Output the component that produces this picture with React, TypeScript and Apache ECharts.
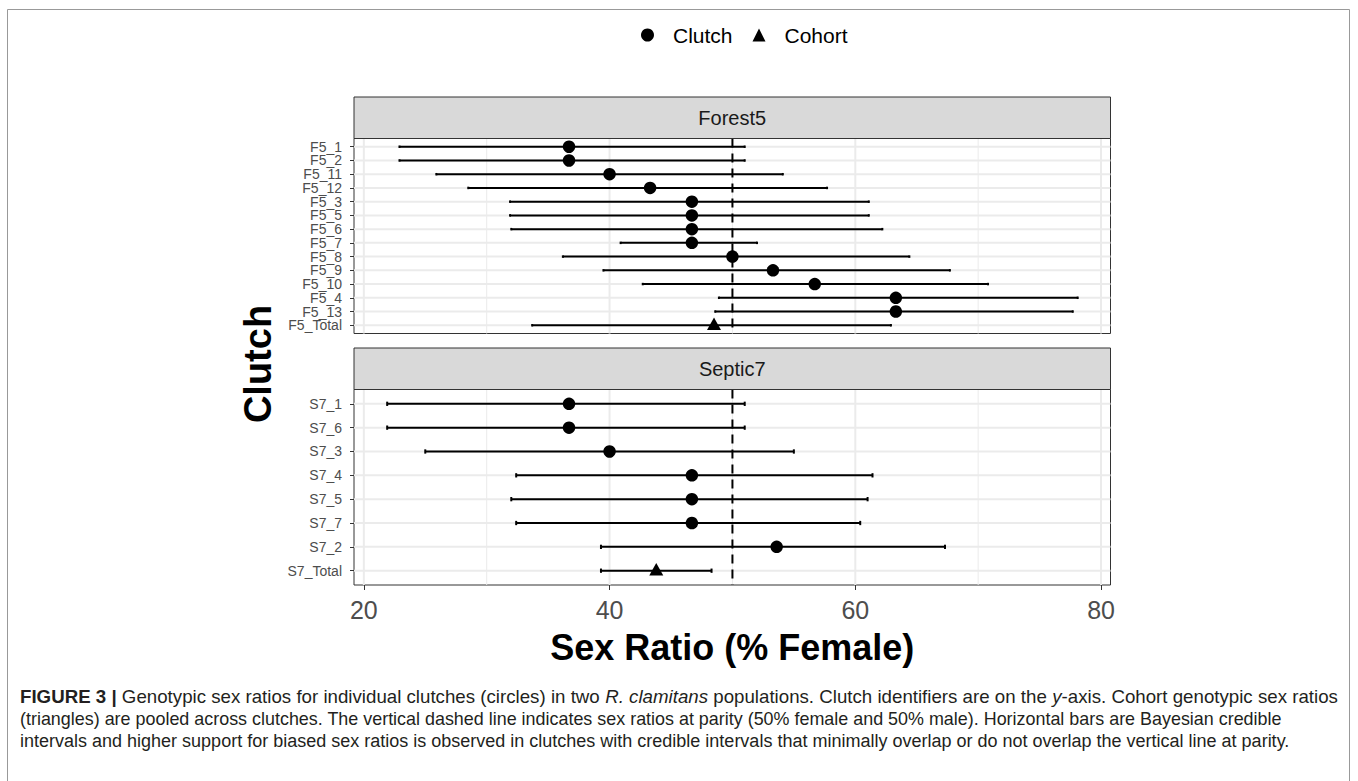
import React, { useEffect, useRef } from 'react';
import * as echarts from 'echarts';

// ---------------- DATA ----------------
const PANEL_NAMES = ['Forest5', 'Septic7'];

const F5_CLUTCHES = ['F5_1', 'F5_2', 'F5_11', 'F5_12', 'F5_3', 'F5_5', 'F5_6', 'F5_7', 'F5_8', 'F5_9', 'F5_10', 'F5_4', 'F5_13', 'F5_Total'];
const F5_EST = [36.7, 36.7, 40.0, 43.3, 46.7, 46.7, 46.7, 46.7, 50.0, 53.3, 56.7, 63.3, 63.3, 48.5];
const F5_LOW = [22.9, 22.9, 25.9, 28.5, 31.9, 31.9, 32.0, 40.9, 36.2, 39.5, 42.7, 48.9, 48.6, 33.7];
const F5_HIGH = [51.0, 51.0, 54.1, 57.7, 61.1, 61.1, 62.2, 52.0, 64.4, 67.7, 70.8, 78.1, 77.7, 62.9];

const S7_CLUTCHES = ['S7_1', 'S7_6', 'S7_3', 'S7_4', 'S7_5', 'S7_7', 'S7_2', 'S7_Total'];
const S7_EST = [36.7, 36.7, 40.0, 46.7, 46.7, 46.7, 53.6, 43.8];
const S7_LOW = [21.9, 21.9, 25.0, 32.4, 32.0, 32.4, 39.3, 39.3];
const S7_HIGH = [51.0, 51.0, 55.0, 61.4, 61.0, 60.4, 67.3, 48.3];

const X_TICKS = [20, 40, 60, 80];
const X_MINOR = [30, 50, 70];
const PARITY = 50;

const LEGEND_NAMES = ['Clutch', 'Cohort'];
const X_TITLE = 'Sex Ratio (% Female)';
const Y_TITLE = 'Clutch';

const CAPTION_LINES = [
  '{b|FIGURE 3 |} Genotypic sex ratios for individual clutches (circles) in two {i|R. clamitans} populations. Clutch identifiers are on the {i|y}-axis. Cohort genotypic sex ratios',
  '(triangles) are pooled across clutches. The vertical dashed line indicates sex ratios at parity (50% female and 50% male). Horizontal bars are Bayesian credible',
  'intervals and higher support for biased sex ratios is observed in clutches with credible intervals that minimally overlap or do not overlap the vertical line at parity.',
];

// ---------------- LAYOUT ----------------
const FONT = "'Liberation Sans', Arial, Helvetica, sans-serif";
const GRID_LEFT = 354;
const GRID_W = 756.5;
const GRID_TOPS = [138.5, 389.5];
const GRID_HS = [195, 195.5];
const STRIP_H = 41.5;
const X_MIN = 19.2;
const X_MAX = 80.77;
const Y_EXPAND = 0.6; // discrete-axis padding (in category units)
const CAP = 0.09;
const CAPTION_SCALE = [1.039, 0.996, 1.0];

const PANELS = [
  { name: PANEL_NAMES[0], cats: F5_CLUTCHES, est: F5_EST, low: F5_LOW, high: F5_HIGH },
  { name: PANEL_NAMES[1], cats: S7_CLUTCHES, est: S7_EST, low: S7_LOW, high: S7_HIGH },
];

function buildOption() {
  const grids: any[] = [];
  const xAxes: any[] = [];
  const yAxes: any[] = [];
  const series: any[] = [];
  const graphics: any[] = [];
  const labelGrids: any[] = [];
  const labelX: any[] = [];
  const labelY: any[] = [];
  const NP = PANELS.length;

  PANELS.forEach((p, pi) => {
    const n = p.cats.length;
    const idx = p.cats.map((_, i) => i + 1);
    const isBottom = pi === NP - 1;

    grids.push({
      left: GRID_LEFT, top: GRID_TOPS[pi], width: GRID_W, height: GRID_HS[pi],
      show: true, borderColor: '#333333', borderWidth: 1, backgroundColor: '#ffffff',
      containLabel: false,
    });

    // label grid: category bands aligned with the value positions 1..n
    const unit = GRID_HS[pi] / (n - 1 + 2 * Y_EXPAND);
    const off = (Y_EXPAND - 0.5) * unit;
    labelGrids.push({
      left: GRID_LEFT, top: GRID_TOPS[pi] + off, width: GRID_W, height: n * unit,
      show: false, containLabel: false,
    });
    labelX.push({ type: 'value', gridIndex: NP + pi, show: false, min: 0, max: 1 });
    labelY.push({
      type: 'category', gridIndex: NP + pi, inverse: true, data: p.cats,
      axisLine: { show: false, onZero: false },
      splitLine: { show: false },
      axisTick: { show: true, alignWithLabel: true, interval: 0, length: 4, lineStyle: { color: '#333333', width: 1 } },
      axisLabel: { show: true, interval: 0, fontSize: 14, color: '#4D4D4D', fontFamily: FONT, margin: 12 },
    });

    xAxes.push({
      type: 'value', gridIndex: pi, min: X_MIN, max: X_MAX,
      axisLine: { show: false, onZero: false },
      splitLine: { show: false },
      axisTick: isBottom
        ? { show: true, length: 5, customValues: X_TICKS, lineStyle: { color: '#333333', width: 1 } }
        : { show: false },
      axisLabel: isBottom
        ? { show: true, customValues: X_TICKS, fontSize: 25, color: '#4D4D4D', fontFamily: FONT, margin: 12, showMinLabel: true, showMaxLabel: true }
        : { show: false },
      name: isBottom ? X_TITLE : '',
      nameLocation: 'middle',
      nameGap: 44,
      nameTextStyle: { fontSize: 36, fontWeight: 'bold', color: '#000000', fontFamily: FONT },
    });

    yAxes.push({
      type: 'value', gridIndex: pi, inverse: true, min: 1 - Y_EXPAND, max: n + Y_EXPAND,
      axisLine: { show: false, onZero: false },
      splitLine: { show: false },
      axisTick: { show: false },
      axisLabel: { show: false },
    });

    // vertical gridlines (major + minor)
    const vLine = (w: number) => (params: any, api: any) => {
      const cs = params.coordSys;
      const x = api.coord([api.value(0), 1])[0];
      return { type: 'line', shape: { x1: x, y1: cs.y, x2: x, y2: cs.y + cs.height }, style: { stroke: '#EBEBEB', lineWidth: w } };
    };
    series.push({
      type: 'custom', name: 'gridMajor' + pi, xAxisIndex: pi, yAxisIndex: pi, z: 1, silent: true,
      data: X_TICKS.map((v) => [v, 1]), renderItem: vLine(2),
    });
    series.push({
      type: 'custom', name: 'gridMinor' + pi, xAxisIndex: pi, yAxisIndex: pi, z: 1, silent: true,
      data: X_MINOR.map((v) => [v, 1]), renderItem: vLine(1),
    });
    // horizontal gridlines at each clutch
    series.push({
      type: 'custom', name: 'gridH' + pi, xAxisIndex: pi, yAxisIndex: pi, z: 1, silent: true,
      data: idx.map((i) => [PARITY, i]),
      renderItem: (params: any, api: any) => {
        const cs = params.coordSys;
        const y = api.coord([PARITY, api.value(1)])[1];
        return { type: 'line', shape: { x1: cs.x, y1: y, x2: cs.x + cs.width, y2: y }, style: { stroke: '#EBEBEB', lineWidth: 2 } };
      },
    });
    // parity dashed line
    series.push({
      type: 'custom', name: 'parity' + pi, xAxisIndex: pi, yAxisIndex: pi, z: 2, silent: true,
      data: [[PARITY, 1]],
      renderItem: (params: any, api: any) => {
        const cs = params.coordSys;
        const x = api.coord([api.value(0), 1])[0];
        return { type: 'line', shape: { x1: x, y1: cs.y, x2: x, y2: cs.y + cs.height }, style: { stroke: '#000000', lineWidth: 2, lineDash: [9, 6] } };
      },
    });
    // error bars
    series.push({
      type: 'custom', name: 'ci' + pi, xAxisIndex: pi, yAxisIndex: pi, z: 3, silent: true,
      data: p.cats.map((_, i) => [p.low[i], p.high[i], i + 1]),
      encode: { x: [0, 1], y: 2 },
      renderItem: (params: any, api: any) => {
        const lo = api.value(0), hi = api.value(1), yv = api.value(2);
        const a = api.coord([lo, yv]);
        const b = api.coord([hi, yv]);
        const t = api.coord([lo, yv - CAP]);
        const half = Math.abs(a[1] - t[1]);
        const st = { stroke: '#000000', lineWidth: 2 };
        return {
          type: 'group',
          children: [
            { type: 'line', shape: { x1: a[0], y1: a[1], x2: b[0], y2: b[1] }, style: st },
            { type: 'line', shape: { x1: a[0], y1: a[1] - half, x2: a[0], y2: a[1] + half }, style: st },
            { type: 'line', shape: { x1: b[0], y1: b[1] - half, x2: b[0], y2: b[1] + half }, style: st },
          ],
        };
      },
    });
    // points
    const clutchData: any[] = [];
    const cohortData: any[] = [];
    p.cats.forEach((c, i) => {
      if (c.endsWith('Total')) cohortData.push([p.est[i], i + 1]);
      else clutchData.push([p.est[i], i + 1]);
    });
    series.push({
      type: 'scatter', name: LEGEND_NAMES[0], xAxisIndex: pi, yAxisIndex: pi, z: 4,
      symbol: 'circle', symbolSize: 12.5, itemStyle: { color: '#000000', opacity: 1 },
      data: clutchData, silent: true,
    });
    series.push({
      type: 'scatter', name: LEGEND_NAMES[1], xAxisIndex: pi, yAxisIndex: pi, z: 4,
      symbol: 'triangle', symbolSize: [14, 12.5], symbolOffset: [0, -1.5], itemStyle: { color: '#000000', opacity: 1 },
      data: cohortData, silent: true,
    });

    // strip
    const stripTop = GRID_TOPS[pi] - STRIP_H;
    graphics.push({
      type: 'rect', z: 10,
      shape: { x: GRID_LEFT, y: stripTop, width: GRID_W, height: STRIP_H },
      style: { fill: '#D9D9D9', stroke: '#333333', lineWidth: 1 },
    });
    graphics.push({
      type: 'text', z: 11,
      x: GRID_LEFT + GRID_W / 2, y: stripTop + STRIP_H / 2,
      style: { text: p.name, fontSize: 20, fontFamily: FONT, fill: '#1A1A1A', align: 'center', verticalAlign: 'middle' },
    });
  });

  // y title
  graphics.push({
    type: 'text', z: 11, x: 258, y: 364, rotation: Math.PI / 2,
    style: { text: Y_TITLE, fontSize: 38, fontWeight: 'bold', fontFamily: FONT, fill: '#000000', align: 'center', verticalAlign: 'middle' },
  });

  // caption
  CAPTION_LINES.forEach((line, li) => {
    graphics.push({
      type: 'text', z: 11, x: 20, y: 697 + li * 22, scaleX: CAPTION_SCALE[li], scaleY: 1,
      style: {
        text: line, fontSize: 18, fontFamily: FONT, fill: '#231F20', align: 'left', verticalAlign: 'middle',
        rich: {
          b: { fontSize: 18, fontFamily: FONT, fontWeight: 'bold', fill: '#231F20' },
          i: { fontSize: 18, fontFamily: FONT, fontStyle: 'italic', fill: '#231F20' },
        },
      },
    });
  });

  // frame
  graphics.push({
    type: 'rect', z: 0, silent: true,
    shape: { x: 7.5, y: 9.5, width: 1342, height: 800 },
    style: { fill: 'none', stroke: '#999999', lineWidth: 1 },
  });

  return {
    animation: false,
    backgroundColor: '#ffffff',
    textStyle: { fontFamily: FONT },
    legend: {
      left: 641, top: 24.5, padding: 0, itemGap: 20, itemWidth: 13, itemHeight: 13,
      selectedMode: false,
      data: [
        { name: LEGEND_NAMES[0], icon: 'circle' },
        { name: LEGEND_NAMES[1], icon: 'triangle' },
      ],
      textStyle: { fontSize: 21, color: '#000000', fontFamily: FONT, padding: [0, 0, 0, 14] },
    },
    grid: [...grids, ...labelGrids],
    xAxis: [...xAxes, ...labelX],
    yAxis: [...yAxes, ...labelY],
    series,
    graphic: graphics,
  };
}

export default function App() {
  const ref = useRef<HTMLDivElement>(null);
  useEffect(() => {
    const chart = echarts.init(ref.current as HTMLDivElement, null, { renderer: 'svg' });
    chart.setOption(buildOption() as any);
    return () => chart.dispose();
  }, []);
  return <div ref={ref} style={{ position: 'absolute', left: 0, top: 0, width: 1358, height: 781 }} />;
}
